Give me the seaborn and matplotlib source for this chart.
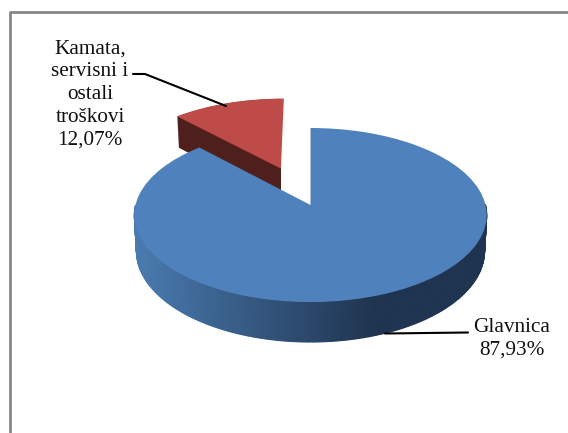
import numpy as np
import matplotlib
matplotlib.use("Agg")
import matplotlib.pyplot as plt
import seaborn as sns
from matplotlib.transforms import Transform
from matplotlib.colors import to_rgb
from matplotlib.patches import Rectangle

labels = ["Kamata,\nservisni i\nostali\ntroškovi\n12,07%", "Glavnica\n87,93%"]
values = [12.07, 87.93]
explode = [0.48, 0.0]
top_colors = ["#BE4B48", "#4F81BD"]
side_red = "#4F1F1D"

sns.set_theme(style="white")
plt.rcParams["font.family"] = ["Liberation Serif", "DejaVu Serif"]

CX, CY, AX, DX, C, H, SHRINK = 310.5, 205.0, 85.85, 175.0, 0.115, 35.4, 0.012


class Persp(Transform):
    input_dims = output_dims = 2
    is_separable = False
    has_inverse = False

    def __init__(self, z=0.0):
        super().__init__()
        self.z = z

    def transform_non_affine(self, xy):
        xy = np.asarray(xy, float)
        w = 1 + C * xy[:, 1]
        return np.column_stack((CX + (1 - SHRINK * self.z) * DX * xy[:, 0] / w,
                                CY + (-AX * xy[:, 1] + self.z * H) / w))


fig = plt.figure(figsize=(5.68, 4.33), dpi=100, facecolor="white")
ax = fig.add_axes([0, 0, 1, 1])


def pie_layer(vals, colors, expl, z):
    wedges, _ = ax.pie(vals, colors=colors, explode=expl, startangle=90,
                       counterclock=True, radius=1,
                       wedgeprops=dict(linewidth=0, edgecolor="none"))
    for w in wedges:
        w.set_transform(Persp(z) + ax.transData)
    return wedges


share = np.array(values) / sum(values)
mid = np.radians(90 + share[0] * 180)
apex = Persp(0.0).transform_non_affine(
    np.array([[explode[0] * np.cos(mid), explode[0] * np.sin(mid)]]))[0]

# exploded slice: extruded body, then its top face
body = []
for z in np.linspace(1, 0.01, 70):
    ws = pie_layer(values, [side_red, "none"], explode, z)
    ws[1].set_visible(False)
    body.append(ws[0])
ws = pie_layer(values, [top_colors[0], "none"], explode, 0)
ws[1].set_visible(False)

# main slice: outer wall with shading, then top face
start = 90 + share[0] * 360
end = 90 + 360
thetas = np.radians(np.linspace(start, end, 361))
pb, pt = Persp(1.0), Persp(0.0)
c0, c1 = np.array(to_rgb("#4A7BB0")), np.array(to_rgb("#1F3450"))
for t0, t1 in zip(thetas[:-1], thetas[1:]):
    if np.sin(0.5 * (t0 + t1)) > 0.0:
        continue
    rim = np.array([[np.cos(t0), np.sin(t0)], [np.cos(t1), np.sin(t1)]])
    top = pt.transform_non_affine(rim)
    bot = pb.transform_non_affine(rim)
    sx = top[:, 0].mean()
    f = np.clip((sx - 135) / (375 - 135), 0, 1)
    col = c0 + (c1 - c0) * f
    ax.fill([top[0, 0], top[1, 0], bot[1, 0], bot[0, 0]],
            [top[0, 1], top[1, 1], bot[1, 1], bot[0, 1]],
            color=col, lw=0.8, zorder=1)
ws = pie_layer(values, ["none", top_colors[1]], explode, 0)
ws[0].set_visible(False)

ax.set_aspect("auto")
ax.set_xlim(0, 568)
ax.set_ylim(433, 0)
ax.axis("off")

# only the slice's left cut faces the viewer: hide the wall on its right
clip = Rectangle((0, 433), apex[0] + 0.3, -433, transform=ax.transData)
for w in body:
    w.set_clip_on(True)
    w.set_clip_path(clip)

# chart frame: left and top edges only, the right and bottom run off the picture
ax.plot([9.5, 9.5, 568], [433, 12.3, 12.3], color="#868686", lw=2, zorder=5)

# labels and leaders
ax.text(90, 94.5, labels[0], ha="center", va="center", fontsize=15.3, linespacing=1.28, color="#111111")
ax.text(512, 338.5, labels[1], ha="center", va="center", fontsize=15.3, linespacing=1.28, color="#111111")
ax.plot([133, 145, 226], [74, 74, 106], color="black", lw=1.5, zorder=5)
ax.plot([385, 468], [333.5, 332.5], color="black", lw=1.5, zorder=5)

fig.savefig("out.png", dpi=100)
